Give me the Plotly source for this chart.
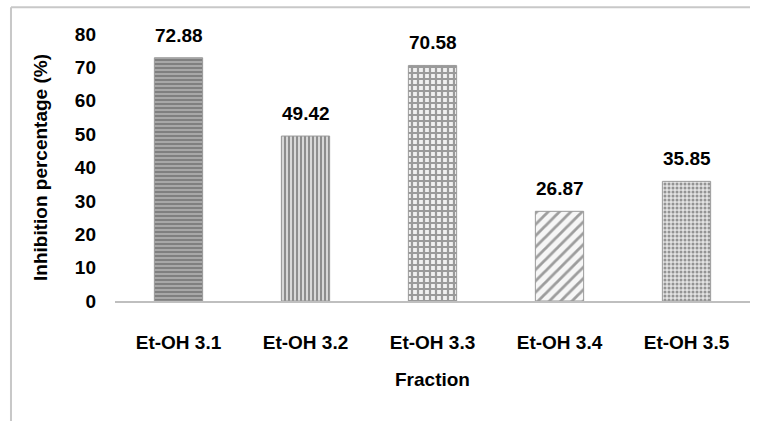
import plotly.graph_objects as go

# Fractions and their inhibition percentages
fractions = ["Et-OH 3.1", "Et-OH 3.2", "Et-OH 3.3", "Et-OH 3.4", "Et-OH 3.5"]
inhibition = [72.88, 49.42, 70.58, 26.87, 35.85]
value_labels = ["72.88", "49.42", "70.58", "26.87", "35.85"]
y_ticks = [0, 10, 20, 30, 40, 50, 60, 70, 80]

# Monochrome fill patterns, one per bar
pattern_shapes = ["-", "|", "+", "/", "."]
pattern_bg = ["#a8a8a8", "#d8d8d8", "#f0f0f0", "#f6f6f6", "#e2e2e2"]
pattern_fg = ["#6a6a6a", "#7c7c7c", "#7a7a7a", "#7e7e7e", "#8c8c8c"]
pattern_size = [4, 4, 6, 8, 4]
pattern_solidity = [0.4, 0.5, 0.6, 0.35, 0.45]

FONT = "Liberation Sans, Arial, sans-serif"
SIZE = 19

fig = go.Figure()
fig.add_trace(go.Bar(
    x=fractions,
    y=inhibition,
    marker=dict(
        color=pattern_bg,
        line=dict(color="#9a9a9a", width=1),
        pattern=dict(
            shape=pattern_shapes,
            fgcolor=pattern_fg,
            size=pattern_size,
            solidity=pattern_solidity,
            fillmode="overlay",
        ),
    ),
    hoverinfo="x+y",
))

# Value labels above each bar
for name, val, lab in zip(fractions, inhibition, value_labels):
    fig.add_annotation(
        x=name, y=val, text=f"<b>{lab}</b>", showarrow=False,
        yanchor="bottom", yshift=10,
        font=dict(family=FONT, size=SIZE, color="#000000"),
    )

# Light frame along the top and left edges
fig.add_shape(type="line", xref="paper", yref="paper",
              x0=-0.1638, x1=1.0, y0=1.1, y1=1.1,
              line=dict(color="#c8c8c8", width=2))
fig.add_shape(type="line", xref="paper", yref="paper",
              x0=-0.1638, x1=-0.1638, y0=1.1, y1=-0.45,
              line=dict(color="#c8c8c8", width=2))

fig.update_layout(
    width=762, height=421,
    margin=dict(l=115, r=12, t=34, b=120),
    paper_bgcolor="#ffffff",
    plot_bgcolor="#ffffff",
    bargap=0.62,
    showlegend=False,
    font=dict(family=FONT, size=SIZE, color="#000000"),
    xaxis=dict(
        showline=True, linecolor="#bfbfbf", linewidth=2,
        showgrid=False, ticks="", ticklabelstandoff=23,
        tickfont=dict(family=FONT, size=SIZE, color="#000000", weight="bold"),
        title=dict(text="<b>Fraction</b>", standoff=21,
                   font=dict(family=FONT, size=SIZE, color="#000000")),
    ),
    yaxis=dict(
        range=[0, 80], tickvals=y_ticks,
        showline=False, showgrid=False, zeroline=False, ticks="",
        ticklabelstandoff=18,
        tickfont=dict(family=FONT, size=SIZE, color="#000000", weight="bold"),
        title=dict(text="<b>Inhibition percentage (%)</b>", standoff=22,
                   font=dict(family=FONT, size=SIZE, color="#000000")),
    ),
)

fig.write_html("out.html")
